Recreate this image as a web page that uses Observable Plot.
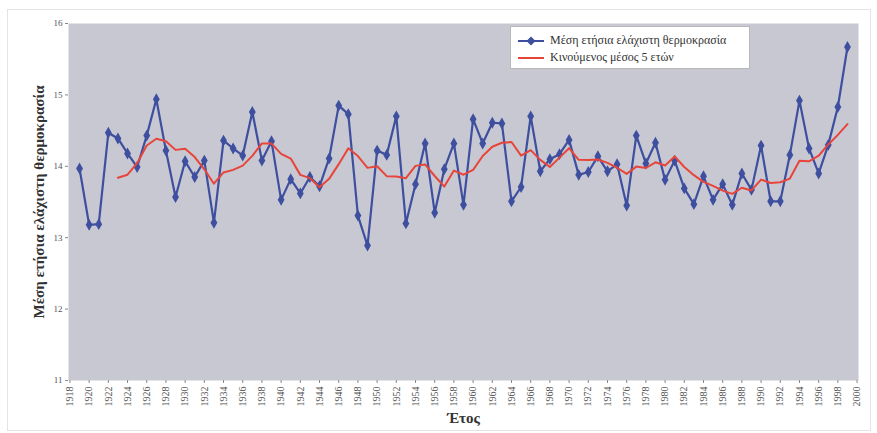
<!DOCTYPE html>
<html><head><meta charset="utf-8">
<script src="https://cdn.jsdelivr.net/npm/d3@7"></script>
<script src="https://cdn.jsdelivr.net/npm/@observablehq/plot@0.6"></script>
<style>
body{margin:0;background:#fff;}
#wrap{position:relative;width:877px;height:433px;overflow:hidden;}
#border{position:absolute;left:7px;top:9px;width:862px;height:420px;border:1px solid #e4e4e4;pointer-events:none;}
.legend{position:absolute;left:510px;top:26px;width:240px;height:43px;background:#fff;border:1px solid #b8b8b8;font-family:"Liberation Serif";font-size:12px;color:#333;box-sizing:border-box;}
.legend .row{position:absolute;left:6px;height:15px;display:flex;align-items:center;white-space:nowrap;}
.legend svg{margin-right:5px;}
</style></head><body>
<div id="wrap"><div id="border"></div></div>
<script>
// ---- data ----
const firstYear = 1919;
const minTemp = [
  13.97, 13.18, 13.19, 14.47, 14.39, 14.18, 13.99, 14.43, 14.94, 14.22,
  13.57, 14.07, 13.85, 14.08, 13.21, 14.36, 14.25, 14.15, 14.76, 14.08,
  14.35, 13.53, 13.82, 13.62, 13.85, 13.72, 14.11, 14.85, 14.73, 13.31,
  12.89, 14.22, 14.16, 14.70, 13.20, 13.75, 14.32, 13.35, 13.96, 14.32,
  13.46, 14.66, 14.32, 14.61, 14.60, 13.51, 13.71, 14.70, 13.93, 14.10,
  14.17, 14.37, 13.88, 13.92, 14.14, 13.93, 14.03, 13.45, 14.43, 14.04,
  14.33, 13.81, 14.08, 13.69, 13.47, 13.86, 13.53, 13.75, 13.46, 13.90,
  13.67, 14.29, 13.51, 13.51, 14.16, 14.92, 14.25, 13.90, 14.30, 14.83,
  15.67
];
const xTicks = [1918,1920,1922,1924,1926,1928,1930,1932,1934,1936,1938,1940,1942,1944,1946,1948,1950,1952,1954,1956,1958,1960,1962,1964,1966,1968,1970,1972,1974,1976,1978,1980,1982,1984,1986,1988,1990,1992,1994,1996,1998,2000];
const yTicks = [11, 12, 13, 14, 15, 16];
const seriesLabel = "Μέση ετήσια ελάχιστη θερμοκρασία";
const maLabel = "Κινούμενος μέσος 5 ετών";
const yTitle = "Μέση ετήσια ελάχιστη θερμοκρασία";
const xTitle = "Έτος";

const blue = "#3d4f9e", red = "#e8453a";
const data = minTemp.map((t, i) => ({year: firstYear + i, t}));

const chart = Plot.plot({
  width: 877, height: 433,
  marginLeft: 68, marginRight: 19, marginTop: 23, marginBottom: 53,
  style: {fontFamily: "Liberation Serif", background: "transparent"},
  x: {type: "linear", domain: [1917.85, 2000.15]},
  y: {domain: [11, 16]},
  marks: [
    Plot.frame({fill: "#c8c8d3"}),
    Plot.axisX({ticks: xTicks, tickFormat: d => String(d), tickRotate: -90, tickSize: 3, tickPadding: 3, fontSize: 10, fill: "#555", stroke: "#888", label: null}),
    Plot.axisY({ticks: yTicks, tickFormat: d => String(d), tickSize: 3, tickPadding: 3, fontSize: 9, fill: "#555", stroke: "#888", label: null}),
    Plot.line(data, {x: "year", y: "t", stroke: blue, strokeWidth: 2.2}),
    Plot.dot(data, {x: "year", y: "t", symbol: "diamond", r: 3.6, fill: blue}),
    Plot.line(data, Plot.windowY({k: 5, anchor: "end", strict: true}, {x: "year", y: "t", stroke: red, strokeWidth: 2})),
    Plot.text([yTitle], {text: d => d, frameAnchor: "left", textAnchor: "middle", dx: -29, rotate: -90, fontSize: 15, fontWeight: "bold", fill: "#333"}),
    Plot.text([xTitle], {text: d => d, frameAnchor: "bottom", textAnchor: "middle", dy: 42, fontSize: 15, fontWeight: "bold", fill: "#333"})
  ]
});
const wrap = document.getElementById("wrap");
wrap.insertBefore(chart, wrap.firstChild);

const legend = document.createElement("div");
legend.className = "legend";
legend.innerHTML = `
  <div class="row" style="top:6px"><svg width="28" height="10"><line x1="1" y1="5" x2="27" y2="5" stroke="${blue}" stroke-width="2"/><path d="M14,0.5 L18.5,5 L14,9.5 L9.5,5Z" fill="${blue}"/></svg><span>${seriesLabel}</span></div>
  <div class="row" style="top:23px"><svg width="28" height="10"><line x1="1" y1="5" x2="27" y2="5" stroke="${red}" stroke-width="2"/></svg><span>${maLabel}</span></div>`;
wrap.appendChild(legend);
</script>
</body></html>
